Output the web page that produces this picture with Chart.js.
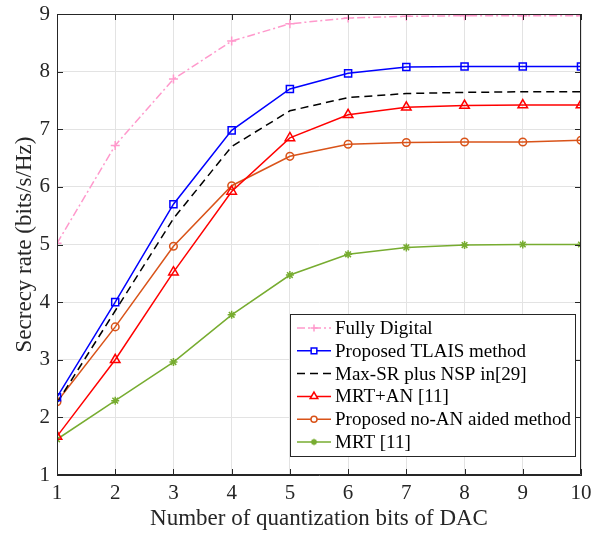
<!DOCTYPE html>
<html>
<head>
<meta charset="utf-8">
<script src="https://cdn.jsdelivr.net/npm/chart.js@4/dist/chart.umd.min.js"></script>
<style>
  html, body { margin: 0; padding: 0; background: #fff; }
  #wrap { width: 602px; height: 533px; }
</style>
</head>
<body>
<div id="wrap"><canvas id="c" width="602" height="533"></canvas></div>
<script>
const bits = [1, 2, 3, 4, 5, 6, 7, 8, 9, 10];
const fullyDigital = [5.02, 6.72, 7.87, 8.53, 8.83, 8.93, 8.96, 8.97, 8.97, 8.97];
const tlais = [2.35, 4.0, 5.70, 6.98, 7.70, 7.97, 8.08, 8.09, 8.09, 8.09];
const maxSrNsp = [2.25, 3.85, 5.45, 6.70, 7.32, 7.55, 7.62, 7.64, 7.65, 7.65];
const mrtAn = [1.67, 3.0, 4.52, 5.92, 6.85, 7.25, 7.38, 7.41, 7.42, 7.42];
const noAn = [2.27, 3.57, 4.97, 6.02, 6.53, 6.74, 6.77, 6.78, 6.78, 6.81];
const mrt = [1.62, 2.29, 2.96, 3.78, 4.47, 4.83, 4.95, 4.99, 5.0, 5.0];

const FONT = "'Liberation Serif', 'Times New Roman', serif";
const AXIS = "#262626";

function serie(label, data, warna, gaya, ukuran, dash) {
  return {
    label,
    data: data.map((v, i) => ({ x: bits[i], y: v })),
    borderColor: warna,
    backgroundColor: "rgba(0,0,0,0)",
    borderWidth: 1.5,
    borderDash: dash || [],
    pointStyle: gaya,
    pointRadius: ukuran,
    pointBorderColor: warna,
    pointBorderWidth: 1.5,
    pointBackgroundColor: "rgba(0,0,0,0)",
    tension: 0
  };
}

const datasets = [
  serie("Fully Digital", fullyDigital, "#ff99cc", "cross", 4.5, [8, 3, 2, 3]),
  serie("Proposed TLAIS method", tlais, "#0000ff", "rect", 5),
  serie("Max-SR plus NSP in[29]", maxSrNsp, "#000000", false, 0, [8, 5]),
  serie("MRT+AN [11]", mrtAn, "#ff0000", "triangle", 5.5),
  serie("Proposed no-AN aided method", noAn, "#d95319", "circle", 3.8),
  serie("MRT [11]", mrt, "#77ac30", "star", 4)
];

// ticks pointing inward plus a full box round the plot
const kotakPlugin = {
  id: "kotak",
  afterDraw(chart) {
    const { ctx, chartArea: a, scales } = chart;
    ctx.save();
    ctx.strokeStyle = AXIS;
    ctx.lineWidth = 1;
    ctx.beginPath();
    ctx.rect(a.left + 0.5, a.top + 0.5, a.right - a.left - 1, a.bottom - a.top - 1);
    ctx.stroke();
    const p = 6;
    scales.x.ticks.forEach(t => {
      const x = Math.round(scales.x.getPixelForValue(t.value)) + 0.5;
      ctx.beginPath();
      ctx.moveTo(x, a.bottom); ctx.lineTo(x, a.bottom - p);
      ctx.moveTo(x, a.top); ctx.lineTo(x, a.top + p);
      ctx.stroke();
    });
    scales.y.ticks.forEach(t => {
      const y = Math.round(scales.y.getPixelForValue(t.value)) + 0.5;
      ctx.beginPath();
      ctx.moveTo(a.left, y); ctx.lineTo(a.left + p, y);
      ctx.moveTo(a.right, y); ctx.lineTo(a.right - p, y);
      ctx.stroke();
    });
    ctx.restore();
  }
};

const legendaPlugin = {
  id: "legenda",
  afterDraw(chart) {
    const { ctx } = chart;
    const kiri = 290, atas = 314, lebar = 285, tinggi = 142;
    ctx.save();
    ctx.fillStyle = "#fff";
    ctx.fillRect(kiri, atas, lebar, tinggi);
    ctx.strokeStyle = AXIS;
    ctx.lineWidth = 1;
    ctx.strokeRect(kiri + 0.5, atas + 0.5, lebar, tinggi);
    ctx.font = "19px " + FONT;
    ctx.textBaseline = "middle";
    chart.data.datasets.forEach((ds, i) => {
      const y = atas + 14 + i * 22.8;
      ctx.strokeStyle = ds.borderColor;
      ctx.lineWidth = ds.borderWidth;
      ctx.setLineDash(ds.borderDash);
      ctx.beginPath();
      ctx.moveTo(kiri + 7, y); ctx.lineTo(kiri + 41, y);
      ctx.stroke();
      ctx.setLineDash([]);
      if (ds.pointStyle && Chart.helpers && Chart.helpers.drawPoint) {
        ctx.fillStyle = "#fff";
        Chart.helpers.drawPoint(ctx, {
          pointStyle: ds.pointStyle,
          radius: ds.pointRadius * 0.8,
          borderWidth: ds.pointBorderWidth,
          rotation: 0
        }, kiri + 24, y);
      }
      ctx.fillStyle = "#000";
      ctx.fillText(ds.label, kiri + 45, y + 1);
    });
    ctx.restore();
  }
};

new Chart(document.getElementById("c"), {
  type: "line",
  data: { datasets },
  plugins: [kotakPlugin, legendaPlugin],
  options: {
    responsive: false,
    animation: false,
    layout: { padding: { left: 0, top: 14, right: 21, bottom: 0 } },
    plugins: { legend: { display: false }, tooltip: { enabled: false } },
    scales: {
      x: {
        type: "linear",
        min: 1, max: 10,
        afterFit: s => { s.height = 58; s.paddingLeft = 0; s.paddingRight = 0; },
        ticks: { stepSize: 1, color: AXIS, padding: 6, font: { family: FONT, size: 21 } },
        grid: { color: "#e3e3e3", drawTicks: false },
        border: { color: AXIS },
        title: { display: true, text: "Number of quantization bits of DAC", color: AXIS, padding: { top: 0, bottom: 0 }, font: { family: FONT, size: 23 } }
      },
      y: {
        min: 1, max: 9,
        afterFit: s => { s.width = 57; s.paddingTop = 0; s.paddingBottom = 0; },
        ticks: { stepSize: 1, color: AXIS, padding: 7, font: { family: FONT, size: 21 } },
        grid: { color: "#e3e3e3", drawTicks: false },
        border: { color: AXIS },
        title: { display: true, text: "Secrecy rate (bits/s/Hz)", color: AXIS, padding: { top: 11, bottom: 0 }, font: { family: FONT, size: 23 } }
      }
    }
  }
});
</script>
</body>
</html>
